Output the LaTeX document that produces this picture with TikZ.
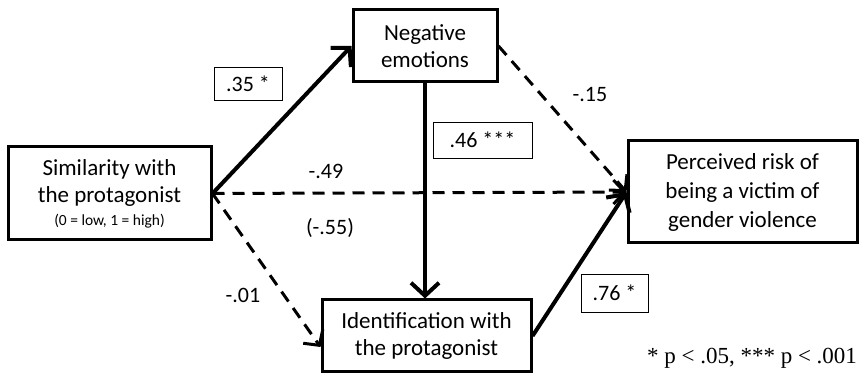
\documentclass[tikz,border=0pt]{standalone}
\usepackage{fontspec}
\setmainfont{Carlito}
\newfontfamily\timesfont{Liberation Serif}
\usetikzlibrary{arrows.meta}
\begin{document}
\begin{tikzpicture}[x=1pt,y=-1pt,
  box/.style={draw,line width=3pt,inner sep=0pt,align=center,font=\fontsize{23}{27}\selectfont},
  lab/.style={draw,line width=0.8pt,inner sep=0pt,font=\fontsize{22}{24}\selectfont},
  coef/.style={inner sep=0pt,font=\fontsize{22}{24}\selectfont},
  solidarr/.style={line width=4pt,-{Straight Barb[length=13pt,width=28pt]}},
  dasharr/.style={line width=3pt,dash pattern=on 12pt off 8pt,-{Straight Barb[length=11pt,width=24pt]}}
]
\useasboundingbox (0,0) rectangle (860,379);
\node[box,minimum width=203pt,minimum height=93pt] (sim) at (109.5,193.5)
  {Similarity with\\the protagonist\\[-4pt]{\fontsize{15.5}{17}\selectfont (0 = low, 1 = high)}};
\node[box,minimum width=144pt,minimum height=72pt] (neg) at (425,46) {Negative\\emotions};
\node[box,minimum width=209pt,minimum height=72pt] (ide) at (426.5,336) {Identification with\\the protagonist};
\node[box,minimum width=229pt,minimum height=102pt,font=\fontsize{23}{29}\selectfont] (per) at (742.5,192) {Perceived risk of\\being a victim of\\gender violence};

\draw[solidarr] (sim.east) -- (neg.west);
\draw[solidarr] (neg.south) -- (neg.south |- ide.north);
\draw[solidarr] (ide.east) -- (per.west);
\draw[dasharr] (neg.east) -- (per.west);
\draw[dasharr] (sim.east) -- (per.west);
\draw[dasharr] (sim.east) -- ([yshift=-11pt]ide.west);

\node[lab,minimum width=68pt,minimum height=33pt] (l35) at (248,83.5) {.35 *};
\node[lab,minimum width=99pt,minimum height=36pt] (l46) at (482.5,140) {.46 ***};
\node[lab,minimum width=67pt,minimum height=38pt] (l76) at (614.5,293) {.76 *};
\node[coef] (c15) at (590,95) {-.15};
\node[coef] (c49) at (326,171) {-.49};
\node[coef] (c55) at (330,228) {(-.55)};
\node[coef] (c01) at (243,295) {-.01};
\node[inner sep=0pt,font=\timesfont\fontsize{23}{26}\selectfont] (fn) at (752,358) {* p < .05, *** p < .001};
\end{tikzpicture}
\end{document}
